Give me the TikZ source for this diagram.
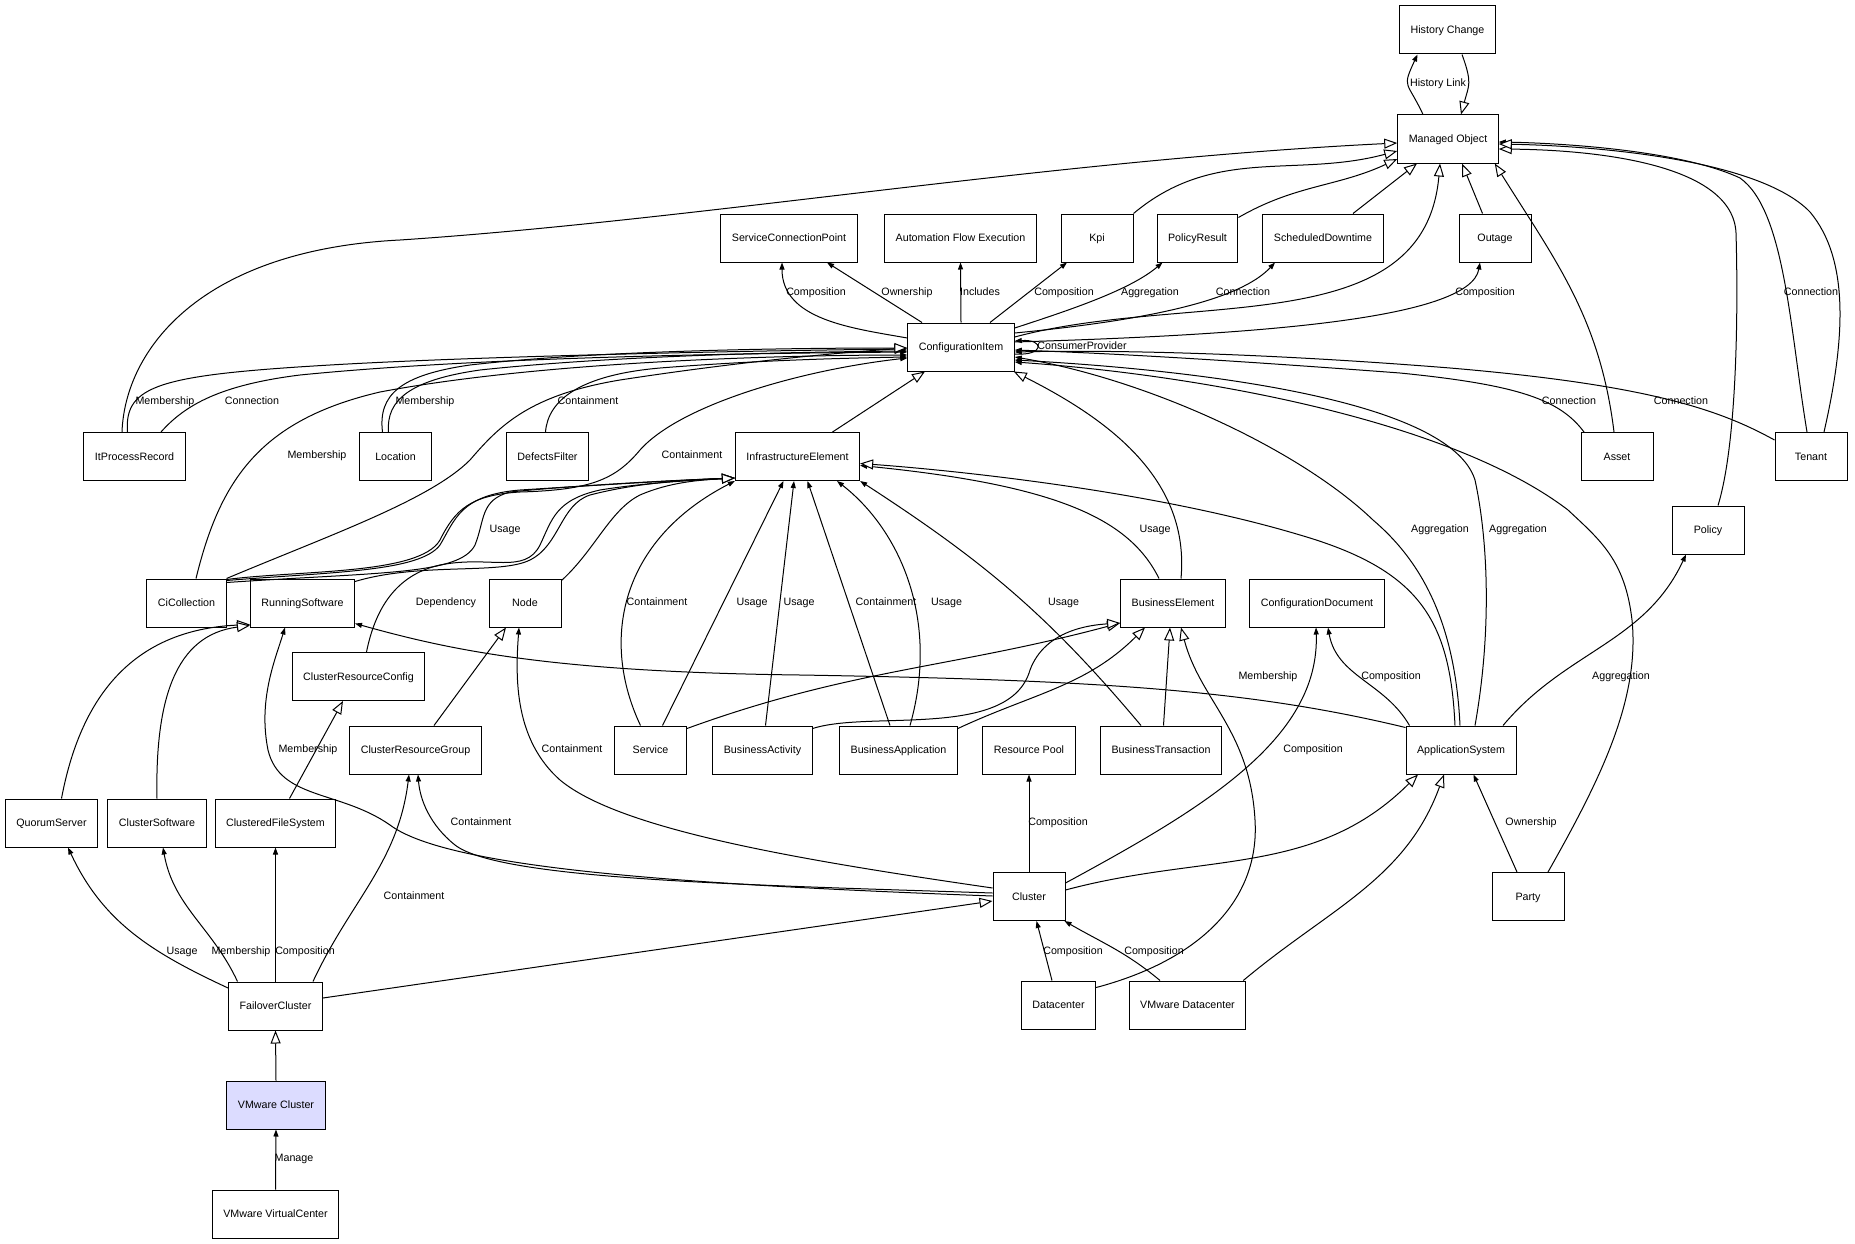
\documentclass[tikz,border=0pt]{standalone}
\usepackage{fontspec}
\setmainfont{Liberation Sans}
\usetikzlibrary{arrows.meta}
\definecolor{vmfill}{RGB}{220,220,255}
\begin{document}
\begin{tikzpicture}
  [x=1pt,y=1pt,
   every node/.style={font=\fontsize{10.7}{12.8}\selectfont,text height=7.7pt,text depth=0pt},
   box/.style={draw,rectangle,line width=1pt,minimum width=72pt,minimum height=48pt,inner xsep=11pt},
   lbl/.style={inner sep=0pt},
   wire/.style={line width=1pt},
   gen/.style={-{Triangle[length=13pt,width=10pt,fill=white]}},
   assoc/.style={-{Triangle[length=7pt,width=5pt]}}]
\useasboundingbox[fill=white] (0,0) rectangle (1855,-1244);

\node (hc)[box] at (1447.5,-30) {History Change};
\node (mo)[box] at (1448,-139) {Managed Object};
\node (scp)[box] at (789,-238) {ServiceConnectionPoint};
\node (afe)[box] at (960.5,-238) {Automation Flow Execution};
\node (kpi)[box] at (1097,-238) {Kpi};
\node (pr)[box] at (1197.5,-238) {PolicyResult};
\node (sd)[box] at (1323,-238) {ScheduledDowntime};
\node (outage)[box] at (1495,-238) {Outage};
\node (ci)[box] at (961,-347) {ConfigurationItem};
\node (ipr)[box] at (134.5,-456.5) {ItProcessRecord};
\node (loc)[box] at (395.5,-456.5) {Location};
\node (df)[box] at (547.5,-456.5) {DefectsFilter};
\node (ie)[box] at (797.5,-456.5) {InfrastructureElement};
\node (asset)[box] at (1617,-456.5) {Asset};
\node (tenant)[box] at (1811,-456.5) {Tenant};
\node (policy)[box] at (1708,-530) {Policy};
\node (cic)[box] at (186.5,-603) {CiCollection};
\node (rs)[box] at (302.5,-603) {RunningSoftware};
\node (nd)[box] at (525,-603) {Node};
\node (be)[box] at (1173,-603) {BusinessElement};
\node (cd)[box] at (1317,-603) {ConfigurationDocument};
\node (crc)[box] at (358.5,-676.5) {ClusterResourceConfig};
\node (crg)[box] at (415.5,-750) {ClusterResourceGroup};
\node (svc)[box] at (650.5,-750) {Service};
\node (bact)[box] at (762.5,-750) {BusinessActivity};
\node (bapp)[box] at (898.5,-750) {BusinessApplication};
\node (rp)[box] at (1029,-750) {Resource Pool};
\node (bt)[box] at (1161,-750) {BusinessTransaction};
\node (appsys)[box] at (1461,-750) {ApplicationSystem};
\node (qs)[box] at (51.5,-823) {QuorumServer};
\node (cs)[box] at (157,-823) {ClusterSoftware};
\node (cfs)[box] at (275.5,-823) {ClusteredFileSystem};
\node (cluster)[box] at (1029,-896.5) {Cluster};
\node (party)[box] at (1528,-896.5) {Party};
\node (fc)[box] at (275.5,-1006) {FailoverCluster};
\node (dc)[box] at (1058.5,-1005) {Datacenter};
\node (vd)[box] at (1187.5,-1005) {VMware Datacenter};
\node (vc)[box,fill=vmfill] at (276,-1105) {VMware Cluster};
\node (vvc)[box] at (275.5,-1214) {VMware VirtualCenter};

% managed object
\path [wire] ([xshift=-25pt]mo.north) edge [assoc,out=115,in=-115,looseness=1.6] ([xshift=-30pt]hc.south);
\path [wire] ([xshift=14.5pt]hc.south) edge [gen,out=-70,in=75,looseness=1.3] ([xshift=13pt]mo.north);
\draw [wire,gen] ([xshift=-12.5pt]ipr.north) .. controls (125,-350) and (200,-250) .. (400,-240) .. controls (700,-220) and (1050,-160) .. ([yshift=-4pt]mo.west);
\path [wire] (kpi.north east) edge [gen,out=40,in=-165] ([yshift=-12pt]mo.west);
\path [wire] ([yshift=-4pt]pr.north east) edge [gen,out=30,in=-155] ([yshift=-20pt]mo.west);
\path [wire] ([xshift=30pt]sd.north) edge [gen] ([xshift=-31pt]mo.south);
\path [wire] ([yshift=10pt]ci.east) edge [gen,out=15,in=-95] ([xshift=-8pt]mo.south);
\path [wire] ([xshift=-12.5pt]outage.north) edge [gen] ([xshift=14pt]mo.south);
\path [wire] ([xshift=-3pt]asset.north) edge [gen,out=97,in=-58] ([xshift=-4pt]mo.south east);
\draw [wire,assoc] ([xshift=-4pt]tenant.north) .. controls (1790,-330) and (1785,-210) .. (1740,-178) .. controls (1680,-150) and (1560,-143) .. ([yshift=-3pt]mo.east);
\draw [wire,gen] ([xshift=10pt]policy.north) .. controls (1738,-440) and (1738,-300) .. (1736,-233) .. controls (1733,-165) and (1600,-150) .. ([yshift=-10pt]mo.east);
\draw [wire,gen] ([xshift=13pt]tenant.north) .. controls (1845,-340) and (1850,-260) .. (1810,-212) .. controls (1760,-160) and (1600,-146) .. ([yshift=-5pt]mo.east);

% configuration item, upwards
\path [wire] ([yshift=9pt]ci.west) edge [assoc,out=170,in=-90] ([xshift=-7pt]scp.south);
\path [wire] ([xshift=-39pt]ci.north) edge [assoc] ([xshift=38pt]scp.south);
\path [wire] (ci.north) edge [assoc] (afe.south);
\path [wire] ([xshift=29pt]ci.north) edge [assoc] ([xshift=-30pt]kpi.south);
\draw [wire,assoc] ([yshift=19pt]ci.east) .. controls (1070,-310) and (1130,-290) .. ([xshift=-35pt]pr.south);
\draw [wire,assoc] ([yshift=14pt]ci.east) .. controls (1150,-320) and (1240,-300) .. ([xshift=-48pt]sd.south);
\draw [wire,assoc] ([yshift=5pt]ci.east) .. controls (1250,-335) and (1470,-320) .. ([xshift=-15pt]outage.south);
\draw [wire,assoc] ([yshift=-7pt]ci.east) .. controls +(30,-2) and +(30,2) .. ([yshift=6pt]ci.east);

% configuration item, from the left
\draw [wire,assoc] ([xshift=-7pt]ipr.north) .. controls (124,-385) and (160,-375) .. (330,-365) .. controls (500,-355) and (800,-350) .. ([yshift=-2pt]ci.west);
\draw [wire,assoc] ([xshift=26.5pt]ipr.north) .. controls (185,-405) and (220,-385) .. (300,-375) .. controls (500,-355) and (800,-353) .. ([yshift=-5pt]ci.west);
\draw [wire,assoc] ([xshift=9.5pt]cic.north) .. controls (220,-480) and (260,-420) .. (380,-392) .. controls (550,-360) and (800,-355) .. ([yshift=-8pt]ci.west);
\draw [wire,assoc] ([xshift=-7pt]loc.north) .. controls (386,-400) and (410,-380) .. (480,-370) .. controls (620,-355) and (800,-352) .. ([yshift=-4pt]ci.west);
\draw [wire,assoc] ([xshift=-2pt]df.north) .. controls (548,-400) and (580,-375) .. (660,-368) .. controls (760,-360) and (850,-358) .. ([yshift=-10pt]ci.west);
\draw [wire,assoc] ([yshift=-1pt]cic.north east) .. controls (300,-570) and (420,-575) .. (440,-540) .. controls (455,-510) and (470,-495) .. (520,-492) .. controls (590,-490) and (615,-480) .. (640,-450) .. controls (680,-405) and (800,-370) .. ([yshift=-11pt]ci.west);
\draw [wire,gen] (cic.north east) .. controls (330,-535) and (430,-500) .. (470,-460) .. controls (500,-425) and (530,-395) .. (620,-380) .. controls (750,-360) and (850,-352) .. ([yshift=-1pt]ci.west);
\draw [wire,gen] ([xshift=-13pt]loc.north) .. controls (378,-395) and (400,-375) .. (470,-365) .. controls (600,-350) and (800,-348) .. ([yshift=-1pt]ci.west);
\path [wire] ([xshift=35pt]ie.north) edge [gen] ([xshift=-36pt]ci.south);

% configuration item, from the right
\draw [wire,assoc] ([xshift=-33pt]asset.north) .. controls (1560,-400) and (1520,-385) .. (1400,-373) .. controls (1200,-358) and (1100,-353) .. ([yshift=-3pt]ci.east);
\draw [wire,assoc] ([yshift=-8pt]tenant.north west) .. controls (1720,-410) and (1650,-385) .. (1450,-368) .. controls (1250,-352) and (1100,-350) .. ([yshift=-5pt]ci.east);
\draw [wire,assoc] ([xshift=-1pt]appsys.north) .. controls (1455,-620) and (1420,-560) .. (1373,-520) .. controls (1300,-450) and (1150,-380) .. ([yshift=-10pt]ci.east);
\draw [wire,assoc] ([xshift=14pt]appsys.north) .. controls (1492,-630) and (1488,-540) .. (1475,-480) .. controls (1450,-400) and (1200,-370) .. ([yshift=-13pt]ci.east);
\draw [wire,assoc] ([xshift=20pt]party.north) .. controls (1600,-780) and (1640,-700) .. (1632,-620) .. controls (1625,-560) and (1600,-540) .. (1568,-510) .. controls (1450,-420) and (1200,-375) .. ([yshift=-15pt]ci.east);
\draw [wire,gen] ([xshift=8pt]be.north) .. controls (1190,-480) and (1110,-420) .. ([xshift=-1pt]ci.south east);

% infrastructure element
\draw [wire,assoc] ([xshift=-14pt]be.north) .. controls (1130,-520) and (1060,-485) .. ([yshift=-9pt]ie.east);
\draw [wire,gen] ([xshift=-6pt]appsys.north) .. controls (1450,-620) and (1420,-570) .. (1300,-535) .. controls (1150,-490) and (950,-470) .. ([yshift=-7pt]ie.east);
\draw [wire,assoc] ([xshift=-10pt]svc.north) .. controls (600,-640) and (620,-540) .. (ie.south west);
\path [wire] ([xshift=12pt]svc.north) edge [assoc] ([xshift=-14pt]ie.south);
\path [wire] ([xshift=3pt]bact.north) edge [assoc] ([xshift=-3.5pt]ie.south);
\path [wire] ([xshift=-8.5pt]bapp.north) edge [assoc] ([xshift=10pt]ie.south);
\draw [wire,assoc] ([xshift=11.5pt]bapp.north) .. controls (940,-620) and (900,-530) .. ([xshift=39.5pt]ie.south);
\path [wire] ([xshift=-20pt]bt.north) edge [assoc,out=130,in=-33] (ie.south east);
\draw [wire,assoc] ([yshift=-2pt]cic.north east) .. controls (330,-572) and (420,-572) .. (440,-545) .. controls (455,-520) and (460,-495) .. (520,-490) .. controls (600,-485) and (680,-480) .. ([yshift=3pt]ie.south west);
\draw [wire,assoc] ([xshift=8pt]crc.north) .. controls (375,-610) and (395,-575) .. (440,-565) .. controls (490,-555) and (525,-575) .. (540,-545) .. controls (552,-520) and (555,-500) .. (600,-490) .. controls (650,-482) and (700,-480) .. ([yshift=3pt]ie.south west);
\draw [wire,gen] ([yshift=-4pt]cic.north east) .. controls (380,-572) and (460,-575) .. (475,-545) .. controls (485,-520) and (480,-500) .. (510,-492) .. controls (580,-485) and (680,-480) .. ([yshift=3pt]ie.south west);
\draw [wire,gen] ([yshift=-3pt]rs.north east) .. controls (420,-562) and (500,-575) .. (530,-560) .. controls (560,-545) and (560,-505) .. (590,-495) .. controls (640,-482) and (690,-480) .. ([yshift=3pt]ie.south west);
\draw [wire,gen] ([yshift=-2pt]nd.north east) .. controls (595,-550) and (610,-510) .. (640,-495) .. controls (670,-482) and (700,-480) .. ([yshift=3pt]ie.south west);

% business element
\path [wire] ([yshift=-3pt]svc.north east) edge [gen,out=20,in=-165] ([yshift=-20pt]be.west);
\draw [wire,gen] ([yshift=-3pt]bact.north east) .. controls (870,-710) and (1010,-740) .. (1030,-670) .. controls (1045,-630) and (1090,-625) .. ([yshift=-20pt]be.west);
\path [wire] ([yshift=-3pt]bapp.north east) edge [gen,out=25,in=-135] ([xshift=-28pt]be.south);
\path [wire] ([xshift=2.5pt]bt.north) edge [gen] ([xshift=-3pt]be.south);
\draw [wire,gen] ([yshift=-7pt]dc.north east) .. controls (1200,-960) and (1260,-900) .. (1255,-820) .. controls (1250,-730) and (1200,-700) .. ([xshift=8pt]be.south);

% application system
\draw [wire,assoc] ([yshift=-2pt]appsys.north west) .. controls (1250,-690) and (1100,-680) .. (800,-675) .. controls (550,-672) and (450,-650) .. ([yshift=4pt]rs.south east);
\path [wire] ([xshift=4pt]appsys.north west) edge [assoc,out=120,in=-80] ([xshift=11pt]cd.south);
\path [wire] ([xshift=42pt]appsys.north) edge [assoc,out=50,in=-115] ([xshift=-22pt]policy.south);
\path [wire] ([xshift=-11pt]party.north) edge [assoc] ([xshift=12.5pt]appsys.south);

% cluster
\path [wire] (cluster.north) edge [assoc] (rp.south);
\draw [wire,assoc] ([yshift=-11pt]cluster.north east) .. controls (1200,-810) and (1320,-740) .. ([xshift=-1pt]cd.south);
\path [wire] ([yshift=6.5pt]cluster.east) edge [gen,out=15,in=-135] ([xshift=-43pt]appsys.south);
\path [wire] ([xshift=-6.5pt]dc.north) edge [assoc] ([xshift=7.5pt]cluster.south);
\path [wire] ([xshift=-27.5pt]vd.north) edge [assoc,out=140,in=-30] ([xshift=-1pt]cluster.south east);
\path [wire] ([xshift=-3pt]vd.north east) edge [gen,out=40,in=-110] ([xshift=-17pt]appsys.south);
\draw [wire,assoc] ([yshift=3.5pt]cluster.west) .. controls (750,-885) and (500,-880) .. (455,-845) .. controls (430,-825) and (420,-800) .. ([xshift=2.5pt]crg.south);
\draw [wire,assoc] ([yshift=0.5pt]cluster.west) .. controls (700,-885) and (450,-870) .. (390,-825) .. controls (340,-790) and (280,-800) .. (268,-750) .. controls (258,-700) and (275,-660) .. ([xshift=-17.5pt]rs.south);
\draw [wire,assoc] ([yshift=8.5pt]cluster.west) .. controls (800,-860) and (620,-830) .. (560,-780) .. controls (515,-740) and (515,-680) .. ([xshift=-6pt]nd.south);
\path [wire] ([yshift=8pt]fc.east) edge [gen] ([yshift=-4.5pt]cluster.west);
\path [wire] ([xshift=18.5pt]crg.north) edge [gen] ([xshift=-19pt]nd.south);

% failover cluster
\path [wire] ([yshift=18pt]fc.west) edge [assoc,out=155,in=-65] ([xshift=16.5pt]qs.south);
\path [wire] ([xshift=-38pt]fc.north) edge [assoc,out=115,in=-80] ([xshift=6pt]cs.south);
\path [wire] (fc.north) edge [assoc] (cfs.south);
\path [wire] ([xshift=37.5pt]fc.north) edge [assoc,out=65,in=-97] ([xshift=-6.5pt]crg.south);
\path [wire] (vc.north) edge [gen] (fc.south);
\path [wire] (vvc.north) edge [assoc] (vc.south);
\draw [wire,gen] ([xshift=10pt]qs.north) .. controls (80,-700) and (130,-630) .. ([yshift=3pt]rs.south west);
\draw [wire,gen] (cs.north) .. controls (155,-700) and (175,-635) .. ([yshift=2pt]rs.south west);
\path [wire] ([xshift=14pt]cfs.north) edge [gen] ([xshift=-15.5pt]crc.south);

% labels
\node (t1)[lbl] at (1438,-83) {History Link};
\node (t2)[lbl] at (816,-292) {Composition};
\node (t3)[lbl] at (907,-292) {Ownership};
\node (t4)[lbl] at (980,-292) {Includes};
\node (t5)[lbl] at (1064,-292) {Composition};
\node (t6)[lbl] at (1150,-292) {Aggregation};
\node (t7)[lbl] at (1243,-292) {Connection};
\node (t8)[lbl] at (1485,-292) {Composition};
\node (t9)[lbl] at (1811,-292) {Connection};
\node (t10)[lbl] at (1082,-346) {ConsumerProvider};
\node (t11)[lbl] at (165,-401) {Membership};
\node (t12)[lbl] at (252,-401) {Connection};
\node (t13)[lbl] at (425,-401) {Membership};
\node (t14)[lbl] at (588,-401) {Containment};
\node (t15)[lbl] at (1569,-401) {Connection};
\node (t16)[lbl] at (1681,-401) {Connection};
\node (t17)[lbl] at (317,-455) {Membership};
\node (t18)[lbl] at (692,-455) {Containment};
\node (t19)[lbl] at (505,-529) {Usage};
\node (t20)[lbl] at (1155,-529) {Usage};
\node (t21)[lbl] at (1440,-529) {Aggregation};
\node (t22)[lbl] at (1518,-529) {Aggregation};
\node (t23)[lbl] at (446,-602) {Dependency};
\node (t24)[lbl] at (657,-602) {Containment};
\node (t25)[lbl] at (752,-602) {Usage};
\node (t26)[lbl] at (799,-602) {Usage};
\node (t27)[lbl] at (886,-602) {Containment};
\node (t28)[lbl] at (946.5,-602) {Usage};
\node (t29)[lbl] at (1063.5,-602) {Usage};
\node (t30)[lbl] at (1268,-676) {Membership};
\node (t31)[lbl] at (1391,-676) {Composition};
\node (t32)[lbl] at (1621,-676) {Aggregation};
\node (t33)[lbl] at (308,-749) {Membership};
\node (t34)[lbl] at (572,-749) {Containment};
\node (t35)[lbl] at (1313,-749) {Composition};
\node (t36)[lbl] at (481,-822) {Containment};
\node (t37)[lbl] at (1058,-822) {Composition};
\node (t38)[lbl] at (1531,-822) {Ownership};
\node (t39)[lbl] at (414,-896) {Containment};
\node (t40)[lbl] at (182,-951) {Usage};
\node (t41)[lbl] at (241,-951) {Membership};
\node (t42)[lbl] at (305,-951) {Composition};
\node (t43)[lbl] at (1073,-951) {Composition};
\node (t44)[lbl] at (1154,-951) {Composition};
\node (t45)[lbl] at (294,-1158) {Manage};
\end{tikzpicture}
\end{document}
